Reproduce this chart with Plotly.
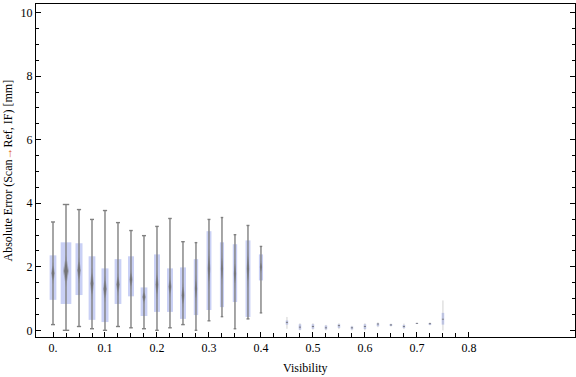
import plotly.graph_objects as go
import numpy as np

# ---- data ----
visibility = [0.0, 0.025, 0.05, 0.075, 0.1, 0.125, 0.15, 0.175, 0.2, 0.225, 0.25, 0.275,
              0.3, 0.325, 0.35, 0.375, 0.4,
              0.45, 0.475, 0.5, 0.525, 0.55, 0.575, 0.6, 0.625, 0.65, 0.675, 0.7, 0.725, 0.75]
whisker_low = [0.18, 0.0, 0.12, 0.05, 0.0, 0.12, 0.08, 0.05, 0.0, 0.08, 0.18, 0.0,
               0.30, 0.43, 0.05, 0.36, 0.55,
               0.05, 0.0, 0.02, 0.0, 0.04, 0.0, 0.0, 0.10, 0.12, 0.04, 0.20, 0.16, 0.0]
q1 = [0.96, 0.83, 1.11, 0.33, 0.26, 0.83, 1.07, 0.45, 0.58, 0.58, 0.36, 0.48,
      0.64, 0.73, 0.89, 0.42, 1.57,
      0.18, 0.02, 0.05, 0.03, 0.08, 0.03, 0.04, 0.13, 0.14, 0.07, 0.21, 0.18, 0.18]
median = [1.80, 1.87, 1.89, 1.47, 1.30, 1.44, 1.60, 1.05, 1.44, 1.37, 1.10, 1.31,
          1.94, 1.94, 1.78, 1.94, 1.99,
          0.25, 0.10, 0.12, 0.08, 0.15, 0.08, 0.12, 0.20, 0.17, 0.12, 0.22, 0.21, 0.35]
q3 = [2.36, 2.77, 2.74, 2.33, 1.95, 2.24, 2.33, 1.35, 2.39, 1.95, 1.98, 2.24,
      3.12, 2.77, 2.71, 2.83, 2.39,
      0.31, 0.19, 0.19, 0.15, 0.19, 0.12, 0.19, 0.22, 0.19, 0.17, 0.23, 0.23, 0.55]
whisker_high = [3.41, 3.96, 3.80, 3.49, 3.77, 3.39, 3.14, 2.98, 3.27, 3.52, 2.79, 2.76,
                3.49, 3.55, 3.01, 3.30, 2.64,
                0.42, 0.22, 0.22, 0.17, 0.22, 0.14, 0.22, 0.25, 0.21, 0.21, 0.23, 0.25, 0.94]
box_width = [0.013, 0.0205, 0.0135, 0.013, 0.0135, 0.013, 0.0115, 0.013, 0.0115, 0.0115,
             0.0115, 0.0085, 0.0095, 0.008, 0.0085, 0.0095, 0.008,
             0.005, 0.005, 0.005, 0.005, 0.005, 0.005, 0.005, 0.005, 0.005, 0.005,
             0.005, 0.005, 0.005]
samples_per_bin = 37

x_tick_vals = [0.0, 0.1, 0.2, 0.3, 0.4, 0.5, 0.6, 0.7, 0.8]
x_tick_text = ["0.", "0.1", "0.2", "0.3", "0.4", "0.5", "0.6", "0.7", "0.8"]
y_tick_vals = [0, 2, 4, 6, 8, 10]

x = np.array(visibility)
lo = np.array(whisker_low); a = np.array(q1); m = np.array(median)
b = np.array(q3); hi = np.array(whisker_high); w = np.array(box_width)

fig = go.Figure()

big = w > 0.007
whisk_col = "rgb(128,128,128)"
faint_col = "rgba(150,150,150,0.45)"

for mask, col, lw in [(big, whisk_col, 1.4), (~big, faint_col, 1.0)]:
    wx, wy = [], []
    for xi, l, h in zip(x[mask], lo[mask], hi[mask]):
        wx += [xi, xi, None]; wy += [l, h, None]
    fig.add_trace(go.Scatter(x=wx, y=wy, mode="lines", line=dict(color=col, width=lw),
                             hoverinfo="skip", showlegend=False))

cx, cy = [], []
for xi, l, h, wi in zip(x[big], lo[big], hi[big], w[big]):
    hw = wi * 0.3
    cx += [xi - hw, xi + hw, None, xi - hw, xi + hw, None]
    cy += [l, l, None, h, h, None]
fig.add_trace(go.Scatter(x=cx, y=cy, mode="lines", line=dict(color=whisk_col, width=1.4),
                         hoverinfo="skip", showlegend=False))

# boxes
fig.add_trace(go.Bar(x=x, y=b - a, base=a, width=w,
                     marker=dict(color="rgb(201,208,245)", line=dict(width=0)),
                     hoverinfo="skip", showlegend=False))

# median diamonds (two layers to mimic the soft shading)
notch = 1.57 * (b - a) / np.sqrt(samples_per_bin)
for scale, col in [(1.0, "rgba(128,128,128,0.45)"), (0.65, "rgba(110,110,110,0.85)")]:
    dx, dy = [], []
    for xi, mi, ni, wi in zip(x[big], m[big], notch[big], w[big]):
        hw = wi * 0.28 * scale
        hh = ni * scale
        dx += [xi, xi + hw, xi, xi - hw, xi, None]
        dy += [mi + hh, mi, mi - hh, mi, mi + hh, None]
    fig.add_trace(go.Scatter(x=dx, y=dy, mode="lines", fill="toself", fillcolor=col,
                             line=dict(width=0, color=col), hoverinfo="skip", showlegend=False))

# small medians for the tiny boxes
mx, my = [], []
for xi, mi, wi in zip(x[~big], m[~big], w[~big]):
    mx += [xi - wi * 0.4, xi + wi * 0.4, None]; my += [mi, mi, None]
fig.add_trace(go.Scatter(x=mx, y=my, mode="lines", line=dict(color="rgba(110,110,110,0.8)", width=1),
                         hoverinfo="skip", showlegend=False))

font = dict(family="Liberation Serif", size=12, color="black")

fig.update_layout(
    width=576, height=377,
    margin=dict(l=36, r=1, t=4, b=40, autoexpand=False),
    paper_bgcolor="white", plot_bgcolor="white",
    barmode="overlay",
    font=font,
    showlegend=False,
    xaxis=dict(range=[-0.0327, 1.004], showgrid=False, zeroline=False, automargin=False,
               showline=True, linecolor="black", linewidth=1, mirror=True,
               ticks="inside", ticklen=5, tickcolor="black", tickwidth=1,
               tickmode="array", tickvals=x_tick_vals, ticktext=x_tick_text,
               minor=dict(tickmode="array",
                          tickvals=[i * 0.025 for i in range(33)],
                          ticks="inside", ticklen=4, tickcolor="black", tickwidth=1),
               tickfont=font),
    yaxis=dict(range=[-0.21, 10.27], showgrid=False, zeroline=False, automargin=False,
               showline=True, linecolor="black", linewidth=1, mirror="ticks",
               ticks="inside", ticklen=5, tickcolor="black", tickwidth=1,
               tickmode="array", tickvals=y_tick_vals,
               minor=dict(tickmode="array", tickvals=[i * 0.5 for i in range(21)],
                          ticks="inside", ticklen=3, tickcolor="black", tickwidth=1),
               tickfont=font),
    annotations=[
        dict(text="Visibility", xref="paper", yref="paper", x=0.5, y=-0.093,
             xanchor="center", yanchor="middle", showarrow=False, font=font),
        dict(text="Absolute Error (Scan<span style='color:#e06020'>→</span>Ref, IF) [mm]",
             xref="paper", yref="paper", x=-0.052, y=0.5, textangle=-90,
             xanchor="center", yanchor="middle", showarrow=False, font=font),
    ],
)

fig.write_html("out.html", config={"displayModeBar": False},
               post_script="document.body.style.margin='0';document.body.style.padding='0';")
